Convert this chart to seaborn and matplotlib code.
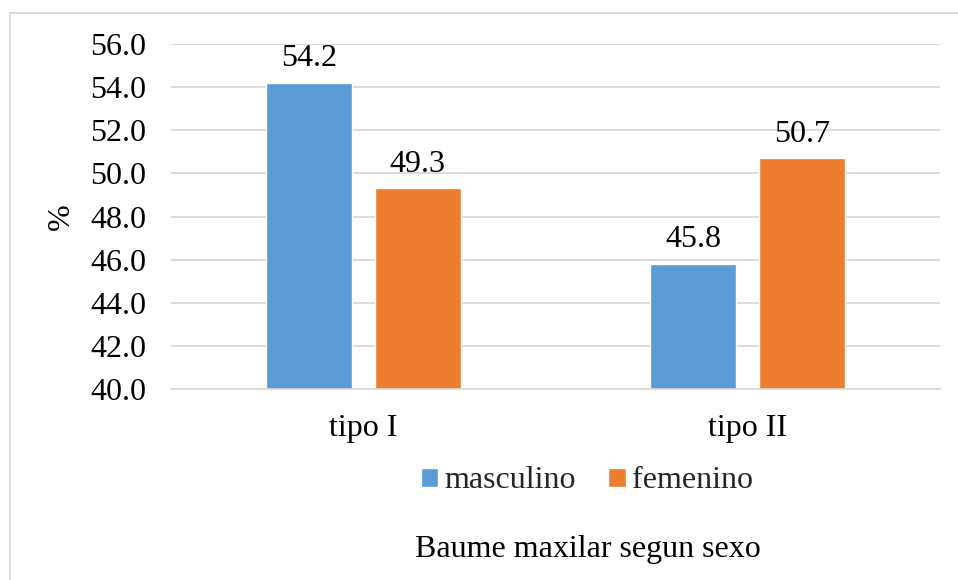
import pandas as pd
import seaborn as sns
import matplotlib.pyplot as plt
from matplotlib.patches import Rectangle

# Datos
tipos = ["tipo I", "tipo II"]
sexos = ["masculino", "femenino"]
masculino = [54.2, 45.8]
femenino = [49.3, 50.7]
colores = ["#5B9BD5", "#ED7D31"]

df = pd.DataFrame({
    "tipo": tipos * 2,
    "sexo": [sexos[0]] * 2 + [sexos[1]] * 2,
    "valor": masculino + femenino,
})

sns.set_theme(style="white")
plt.rcParams["font.family"] = ["Liberation Serif", "DejaVu Serif"]
fs = 23

fig = plt.figure(figsize=(9.58, 5.8), dpi=100)
ax = fig.add_axes([171 / 958, 1 - 389 / 580, 769 / 958, 345 / 580])

sns.barplot(data=df, x="tipo", y="valor", hue="sexo", palette=colores,
            width=0.567, gap=0.21, ax=ax, saturation=1, legend=True)

ax.set_ylim(40, 56)
ax.set_xlim(-0.5, 1.5)
ax.set_yticks(range(40, 57, 2))
ax.set_yticklabels([f"{v:.1f}" for v in range(40, 57, 2)])
ax.yaxis.grid(True, color="#D9D9D9", linewidth=1.3)
ax.set_axisbelow(True)
for s in ["top", "right", "left"]:
    ax.spines[s].set_visible(False)
ax.spines["bottom"].set_color("#D9D9D9")
ax.spines["bottom"].set_linewidth(1.3)
ax.tick_params(axis="y", length=0, pad=18, labelsize=fs, labelcolor="black")
ax.tick_params(axis="x", length=0, pad=18, labelsize=fs, labelcolor="black")
ax.set_xlabel("")
ax.set_ylabel("%", fontsize=fs, labelpad=10, color="black")

# etiquetas de valores
for cont in ax.containers:
    ax.bar_label(cont, fmt="%.1f", padding=7, fontsize=fs, color="black")

# leyenda
handles, labels = ax.get_legend_handles_labels()
ax.legend(handles, labels, loc="center", bbox_to_anchor=(587 / 958, 1 - 481 / 580),
          bbox_transform=fig.transFigure, ncol=2, frameon=False, fontsize=fs,
          handlelength=0.55, handleheight=0.55, handletextpad=0.2, columnspacing=1.0)

fig.text(588 / 958, 1 - 550 / 580, "Baume maxilar segun sexo", ha="center",
         va="center", fontsize=fs, color="black")

# borde del grafico
fig.patches.append(Rectangle((10 / 958, -0.1), 1.1, 1 - 13 / 580 + 0.1,
                             transform=fig.transFigure, fill=False,
                             edgecolor="#D9D9D9", linewidth=1.3))

fig.savefig("out.png", dpi=100)
